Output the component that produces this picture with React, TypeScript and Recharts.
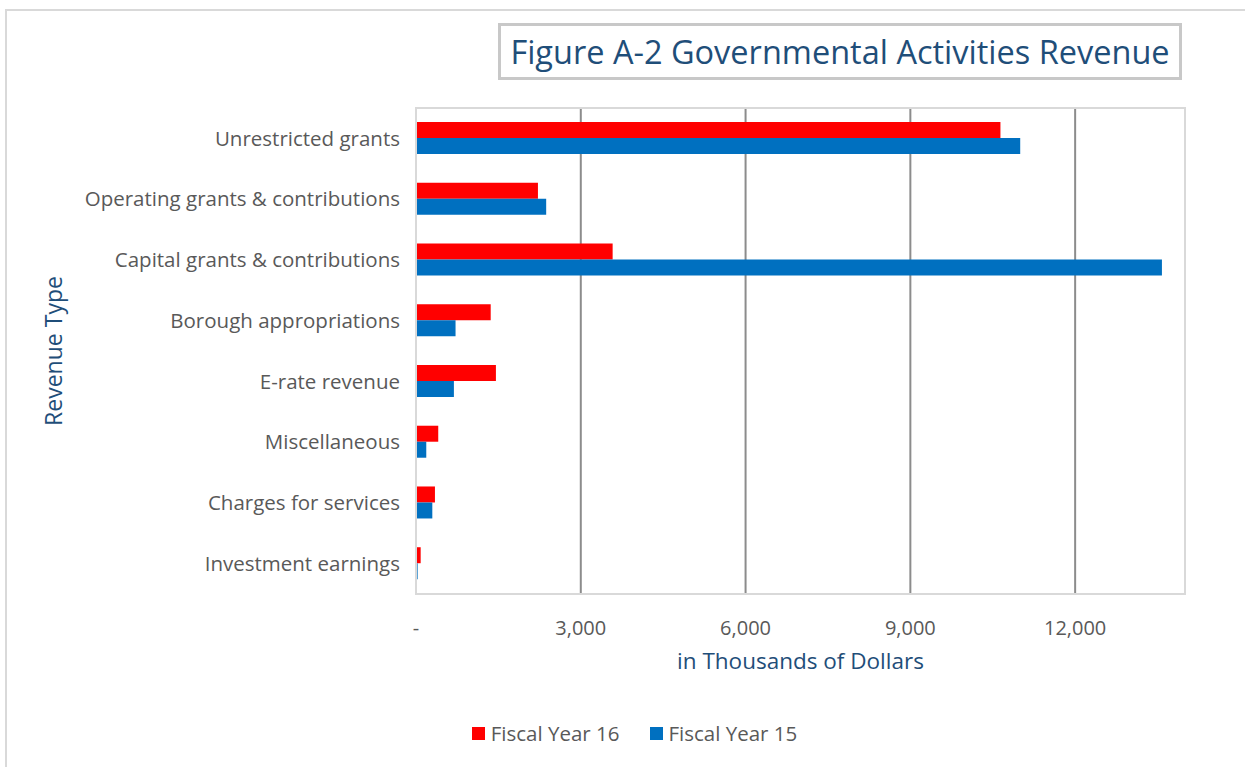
import React from "react";
import {
  BarChart,
  Bar,
  XAxis,
  YAxis,
  CartesianGrid,
  ReferenceArea,
  Legend,
} from "recharts";

const categories = [
  "Unrestricted grants",
  "Operating grants & contributions",
  "Capital grants & contributions",
  "Borough appropriations",
  "E-rate revenue",
  "Miscellaneous",
  "Charges for services",
  "Investment earnings",
];
const fy16 = [10640, 2220, 3580, 1360, 1455, 405, 345, 85];
const fy15 = [11000, 2370, 13580, 720, 690, 187, 297, 30];
const xTicks = [0, 3000, 6000, 9000, 12000];
const seriesNames = ["Fiscal Year 16", "Fiscal Year 15"];
const seriesColors = ["#FF0000", "#0070C0"];

const data = categories.map((c, i) => ({ name: c, fy16: fy16[i], fy15: fy15[i] }));

const FONT = "'Open Sans', 'Noto Sans', sans-serif";
const TEXT = "#595959";
const BLUE_TEXT = "#1F4E79";

const fmt = (v: number) => (v === 0 ? "-" : v.toLocaleString("en-US"));

const LegendContent = () => (
  <div style={{ display: "flex", justifyContent: "center", fontFamily: FONT, fontSize: 20.5, color: TEXT, paddingLeft: 24 }}>
    {seriesNames.map((n, i) => (
      <div key={n} style={{ display: "flex", alignItems: "center", marginRight: i === 0 ? 30 : 0 }}>
        <span style={{ width: 13, height: 13, background: seriesColors[i], display: "inline-block", marginRight: 6 }} />
        <span>{n}</span>
      </div>
    ))}
  </div>
);

export default function App() {
  return (
    <div style={{ position: "absolute", left: 0, top: 0, width: 1245, height: 767, background: "#fff", overflow: "hidden" }}>
      <div
        style={{
          position: "absolute",
          left: 5,
          top: 9,
          width: 1300,
          height: 800,
          borderTop: "2px solid #D9D9D9",
          borderLeft: "2px solid #D9D9D9",
        }}
      />
      <div
        style={{
          position: "absolute",
          left: 498,
          top: 23,
          width: 678,
          height: 51,
          border: "3px solid #C8C8C8",
          display: "flex",
          alignItems: "center",
          justifyContent: "center",
          fontFamily: FONT,
          fontSize: 32.5,
          color: BLUE_TEXT,
          whiteSpace: "nowrap",
        }}
      >
        Figure A-2 Governmental Activities Revenue
      </div>
      <div style={{ position: "absolute", left: 0, top: 0 }}>
        <BarChart
          width={1245}
          height={767}
          data={data}
          layout="vertical"
          margin={{ top: 108, right: 60, bottom: 0, left: 0 }}
          barCategoryGap="23%"
          barGap={0}
        >
          <CartesianGrid horizontal={false} vertical stroke="#8C8C8C" strokeWidth={2} />
          <ReferenceArea x1={0} x2={14000} fill="none" stroke="#D9D9D9" strokeWidth={2} ifOverflow="extendDomain" />
          <XAxis
            type="number"
            domain={[0, 14000]}
            ticks={xTicks}
            tickFormatter={fmt}
            axisLine={{ stroke: "#D9D9D9", strokeWidth: 2 }}
            tickLine={false}
            tick={{ fill: TEXT, fontSize: 20, fontFamily: FONT }}
            tickMargin={21}
            height={145}
            label={({ viewBox }: any) => (
              <text
                x={viewBox.x + viewBox.width / 2}
                y={663}
                textAnchor="middle"
                dominantBaseline="middle"
                fill={BLUE_TEXT}
                fontSize={22.5}
                fontFamily={FONT}
              >
                in Thousands of Dollars
              </text>
            )}
          />
          <YAxis
            type="category"
            dataKey="name"
            width={416}
            axisLine={{ stroke: "#D9D9D9", strokeWidth: 2 }}
            tickLine={false}
            tick={{ fill: TEXT, fontSize: 20.5, fontFamily: FONT }}
            tickMargin={10}
            label={({ viewBox }: any) => {
              const cy = viewBox.y + viewBox.height / 2;
              return (
                <text
                  x={56}
                  y={cy}
                  transform={`rotate(-90, 56, ${cy})`}
                  textAnchor="middle"
                  dominantBaseline="middle"
                  fill={BLUE_TEXT}
                  fontSize={23}
                  fontFamily={FONT}
                >
                  Revenue Type
                </text>
              );
            }}
          />
          <Legend
            content={<LegendContent />}
            wrapperStyle={{ position: "absolute", left: 0, width: 1245, top: 719, bottom: "auto" }}
          />
          <Bar dataKey="fy16" name={seriesNames[0]} fill={seriesColors[0]} isAnimationActive={false} />
          <Bar dataKey="fy15" name={seriesNames[1]} fill={seriesColors[1]} isAnimationActive={false} />
        </BarChart>
      </div>
    </div>
  );
}
